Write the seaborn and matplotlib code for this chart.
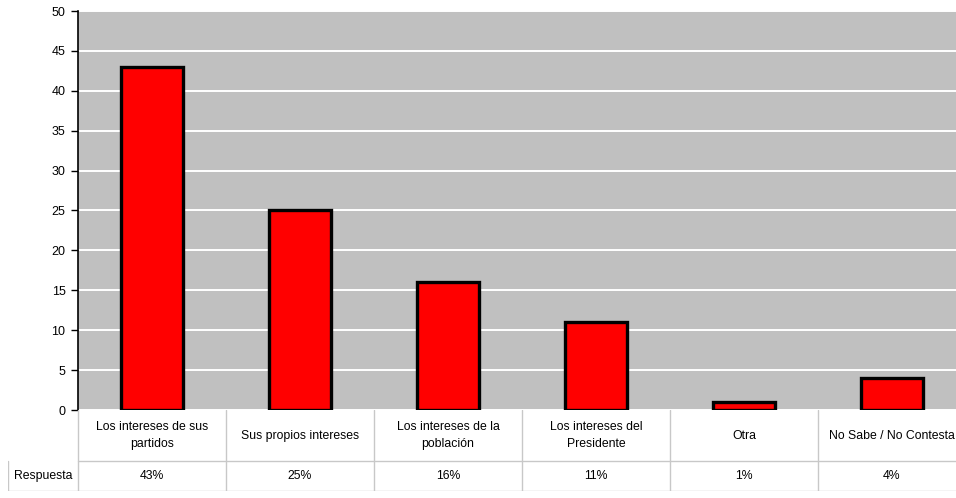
import matplotlib
matplotlib.use("Agg")
import matplotlib.pyplot as plt
import seaborn as sns
import pandas as pd

# -----------------------------
# DATA
# -----------------------------
categories = [
    "Los intereses de sus\npartidos",
    "Sus propios intereses",
    "Los intereses de la\npoblación",
    "Los intereses del\nPresidente",
    "Otra",
    "No Sabe / No Contesta",
]
values = [43, 25, 16, 11, 1, 4]
pct_labels = ["43%", "25%", "16%", "11%", "1%", "4%"]
row_label = "Respuesta"
yticks = list(range(0, 55, 5))

df = pd.DataFrame({"cat": categories, "val": values})

# -----------------------------
# FIGURE
# -----------------------------
sns.set_style("white")
plt.rcParams["font.family"] = ["Liberation Sans", "DejaVu Sans"]
plt.rcParams["text.color"] = "black"
plt.rcParams["ytick.color"] = "black"

W, H = 956, 498
fig = plt.figure(figsize=(W / 100, H / 100), dpi=100)

# plot area runs past the right edge of the picture, like the original
left_px, right_px, top_px, bot_px = 78, 966, 11, 410
ax = fig.add_axes([left_px / W, 1 - bot_px / H, (right_px - left_px) / W, (bot_px - top_px) / H])
ax.set_facecolor("#c0c0c0")

sns.barplot(data=df, x="cat", y="val", color="red", saturation=1,
            edgecolor="black", linewidth=2.4, width=0.42, ax=ax, zorder=3)

ax.set_ylim(0, 50)
ax.set_xlim(-0.5, len(categories) - 0.5)
ax.set_yticks(yticks)
ax.set_yticklabels([str(t) for t in yticks], fontsize=9)
ax.yaxis.grid(True, color="white", linewidth=1.4, zorder=0)
ax.set_axisbelow(True)
ax.set_xticks([])
ax.set_xlabel("")
ax.set_ylabel("")
for s in ["top", "right", "bottom"]:
    ax.spines[s].set_visible(False)
ax.spines["left"].set_color("black")
ax.spines["left"].set_linewidth(1.2)
ax.tick_params(axis="y", left=True, length=5, width=1, direction="out", pad=4,
               labelcolor="black")

# -----------------------------
# DATA TABLE BELOW
# -----------------------------
tbl_left_px, tbl_top_px, tbl_bot_px = 8, 410, 491
cat_w = (right_px - left_px) / len(categories)
extra = (left_px - tbl_left_px) / cat_w
tax = fig.add_axes([tbl_left_px / W, 1 - tbl_bot_px / H, (right_px - tbl_left_px) / W,
                    (tbl_bot_px - tbl_top_px) / H])
tax.set_xlim(-0.5 - extra, len(categories) - 0.5)
row1_h, row2_h = 51, 30
tax.set_ylim(row1_h + row2_h, 0)
tax.axis("off")

grid_c = "#c8c8c8"
n = len(categories)
tax.plot([-0.5, n - 0.5], [row1_h, row1_h], color=grid_c, lw=1)
tax.plot([-0.5 - extra, n - 0.5], [row1_h + row2_h - 0.5] * 2, color=grid_c, lw=1)
tax.plot([-0.5 - extra, -0.5 - extra], [row1_h, row1_h + row2_h], color=grid_c, lw=1)
for i in range(n + 1):
    tax.plot([i - 0.5, i - 0.5], [0, row1_h + row2_h], color=grid_c, lw=1)

for i, (c, p) in enumerate(zip(categories, pct_labels)):
    tax.text(i, row1_h / 2, c, ha="center", va="center", fontsize=8.8, linespacing=1.6)
    tax.text(i, row1_h + row2_h / 2, p, ha="center", va="center", fontsize=8.8)
tax.text(-0.5 - extra / 2, row1_h + row2_h / 2, row_label, ha="center", va="center", fontsize=8.8)

fig.savefig("out.png", dpi=100)
